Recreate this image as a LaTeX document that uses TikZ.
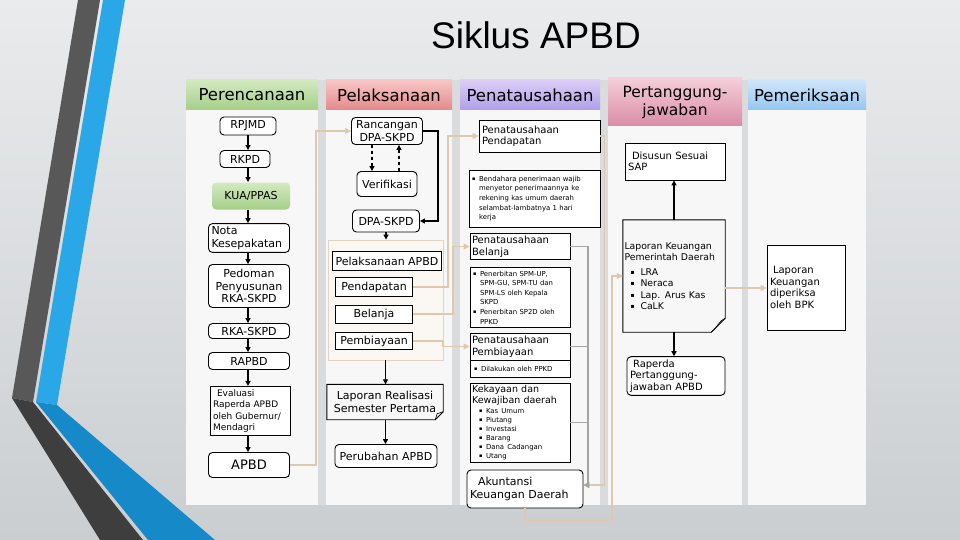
\documentclass[tikz,border=0pt]{standalone}
\usepackage{fontspec}
\setmainfont{DejaVu Sans}
\newfontfamily\titlefont{Liberation Sans}
\usepackage{xcolor}
\definecolor{bgTop}{HTML}{E9EBED}
\definecolor{bgBot}{HTML}{CBCED1}
\definecolor{gapGray}{HTML}{D9DBDD}
\definecolor{colPanel}{HTML}{F7F7F7}
\definecolor{greenTop}{HTML}{D3E9C0}
\definecolor{greenBot}{HTML}{A5CF88}
\definecolor{redTop}{HTML}{F8C6C6}
\definecolor{redBot}{HTML}{E48A8A}
\definecolor{purpTop}{HTML}{DACEF6}
\definecolor{purpBot}{HTML}{B09FEA}
\definecolor{pinkTop}{HTML}{F4CFDA}
\definecolor{pinkBot}{HTML}{DA8CA6}
\definecolor{blueTop}{HTML}{CFE6FA}
\definecolor{blueBot}{HTML}{94C6F1}
\definecolor{tanLine}{HTML}{DEC8AE}
\definecolor{grayLine}{HTML}{A4A4A4}
\definecolor{groupFill}{HTML}{FBF8F4}
\definecolor{groupDraw}{HTML}{E4D3C2}
\definecolor{stripeDark}{HTML}{585858}
\definecolor{stripeDarker}{HTML}{3E3E3E}
\definecolor{stripeBlue}{HTML}{2AA7E6}
\definecolor{stripeBlueDeep}{HTML}{1689C8}
\usepackage{tikz}
\usetikzlibrary{arrows.meta, calc}

\newcommand\hdrfont{\fontsize{16.5}{19}\selectfont}
\newcommand\boxfont{\fontsize{11}{12.5}\selectfont}
\newcommand\midfont{\fontsize{10}{11.5}\selectfont}
\newcommand\smallfont{\fontsize{9}{11.5}\selectfont}
\newcommand\tinyfont{\fontsize{6.9}{9.6}\selectfont}
\newcommand\sqb{\makebox[7pt][l]{\fontsize{5}{5}\selectfont\raisebox{0.6pt}{▪}}}
\newcommand\lsqb{\makebox[10pt][l]{\fontsize{6}{6}\selectfont\raisebox{1pt}{▪}}}
\newcommand\hang{\hspace*{7pt}}

\begin{document}
\begin{tikzpicture}[
    x=1pt, y=-1pt,
    sz/.style 2 args={minimum width=#1pt, minimum height=#2pt},
    rbox/.style={rectangle, rounded corners=4pt, draw=black, line width=0.9pt,
                 fill=white, inner sep=2pt, align=center, font=\boxfont},
    sbox/.style={rbox, sharp corners},
    docbox/.style={rectangle, inner sep=2pt, align=center, font=\boxfont},
    docline/.style={line width=0.9pt, draw=black},
    hdr/.style={rectangle, inner sep=0pt, align=center, font=\hdrfont},
    bullets/.style={sbox, align=left, font=\tinyfont, inner sep=3pt},
    arr/.style={-{Triangle[length=5pt,width=5pt]}, line width=1.5pt},
    tanarr/.style={-{Triangle[length=6pt,width=6pt]}, line width=1.6pt, color=tanLine},
    grayln/.style={line width=1.8pt, color=grayLine},
    grayarr/.style={grayln, -{Triangle[length=6pt,width=6pt]}}
]
\useasboundingbox (0,0) rectangle (960,540);
% slide background and stripes
\fill[top color=bgTop, bottom color=bgBot] (0,0) rectangle (960,540);
\fill[stripeDark] (78,0) -- (100,0) -- (33,402) -- (12,398) -- cycle;
\fill[stripeDarker] (12,398) -- (33,402) -- (143,540) -- (100,540) -- cycle;
\fill[stripeBlue] (103,0) -- (125,0) -- (57,405) -- (36,402) -- cycle;
\fill[stripeBlueDeep] (36,402) -- (57,405) -- (215,540) -- (148,540) -- cycle;

\node[font=\titlefont\fontsize{37}{40}\selectfont] (title) at (536,35) {Siklus APBD};

% column panels
\fill[gapGray] (186,80) rectangle (866,505);
\fill[colPanel] (186,110) rectangle (318,505);
\fill[colPanel] (326,110) rectangle (452,505);
\fill[colPanel] (460,110) rectangle (600,505);
\fill[colPanel] (608,126) rectangle (742,505);
\fill[colPanel] (748,110) rectangle (866,505);

\node[hdr, sz={132}{30}, top color=greenTop, bottom color=greenBot] (hplan) at (252,95) {Perencanaan};
\node[hdr, sz={126}{30}, top color=redTop, bottom color=redBot] (hexec) at (389,95) {Pelaksanaan};
\node[hdr, sz={140}{30}, top color=purpTop, bottom color=purpBot] (hadmin) at (530,95) {Penatausahaan};
\node[hdr, sz={134}{48}, top color=pinkTop, bottom color=pinkBot, font=\fontsize{15.5}{18}\selectfont] (hresp) at (675,102) {Pertanggung-\\jawaban};
\node[hdr, sz={118}{30}, top color=blueTop, bottom color=blueBot] (haudit) at (807,95) {Pemeriksaan};

% Perencanaan
\node[rbox, sz={56}{18}] (rpjmd) at (248,126) {RPJMD};
\node[rbox, sz={50}{17}] (rkpd) at (245,159) {RKPD};
\node[rbox, sz={78}{27}, draw=none, top color=greenTop, bottom color=greenBot] (kua) at (251,196) {KUA/PPAS};
\node[rbox, sz={81}{23}, align=left, inner sep=3pt, text width=75pt] (nota) at (249,238) {Nota\\Kesepakatan};
\node[rbox, sz={81}{43}] (pedoman) at (249,286) {Pedoman\\Penyusunan\\RKA-SKPD};
\node[rbox, sz={81}{15}, inner sep=1pt] (rka) at (249,331) {RKA-SKPD};
\node[rbox, sz={81}{17}] (rapbd) at (249,361) {RAPBD};
\node[sbox, sz={80}{48}, align=left, inner sep=3pt, text width=74pt, font=\smallfont] (evaluasi) at (250,411)
    {\hspace*{4pt}Evaluasi\\Raperda APBD\\oleh Gubernur/\\Mendagri};
\node[rbox, sz={81}{25}, font=\fontsize{13}{15}\selectfont] (apbd) at (249,465) {APBD};

\draw[arr] (rpjmd.south) -- (rpjmd.south |- rkpd.north);
\draw[arr] (rpjmd.south |- rkpd.south) -- (rpjmd.south |- kua.north);
\draw[arr] (rpjmd.south |- kua.south) -- (rpjmd.south |- nota.north);
\draw[arr] (rpjmd.south |- nota.south) -- (rpjmd.south |- pedoman.north);
\draw[arr] (rpjmd.south |- pedoman.south) -- (rpjmd.south |- rka.north);
\draw[arr] (rpjmd.south |- rka.south) -- (rpjmd.south |- rapbd.north);
\draw[arr] (rpjmd.south |- rapbd.south) -- (rpjmd.south |- evaluasi.north);
\draw[arr] (rpjmd.south |- evaluasi.south) -- (rpjmd.south |- apbd.north);

% Pelaksanaan
\node[rbox, sz={71}{27}] (rancangan) at (387,131) {Rancangan\\DPA-SKPD};
\node[rbox, sz={60}{25}] (verifikasi) at (387,184) {Verifikasi};
\node[rbox, sz={67}{22}] (dpa) at (386,221) {DPA-SKPD};
\node[rectangle, draw=groupDraw, fill=groupFill, line width=0.8pt, sz={115}{120}] (pelgroup) at (385.5,300) {};
\node[sbox, sz={109}{19}] (pelapbd) at (387,261) {Pelaksanaan APBD};
\node[sbox, sz={77}{19}] (pendapatan) at (374,287) {Pendapatan};
\node[sbox, sz={77}{18}] (belanja) at (374,314) {Belanja};
\node[sbox, sz={77}{17}] (pembiayaan) at (374,341) {Pembiayaan};
\node[docbox, sz={116}{35}] (laporan) at (385,402) {Laporan Realisasi\\Semester Pertama};
\draw[docline] (laporan.north west) -- (laporan.north east) -- ([yshift=8pt]laporan.south east)
    -- ([xshift=-8pt]laporan.south east) -- (laporan.south west) -- cycle;
\draw[docline, line width=0.6pt] ([xshift=-8pt]laporan.south east) -- ([xshift=-6pt,yshift=6pt]laporan.south east)
    -- ([yshift=8pt]laporan.south east);
\node[rbox, sz={102}{23}] (perubahan) at (386,456) {Perubahan APBD};

\draw[arr, dashed] ([xshift=-15pt]rancangan.south) -- ([xshift=-15pt]rancangan.south |- verifikasi.north);
\draw[arr, dashed] ([xshift=12pt]verifikasi.north) -- ([xshift=12pt]verifikasi.north |- rancangan.south);
\draw[arr] (rancangan.east) -- ++(15,0) |- (dpa.east);
\draw[arr] (dpa.south) -- (dpa.south |- pelgroup.north);
\draw[arr] (pelgroup.south) -- (pelgroup.south |- laporan.north);
\draw[arr] (pelgroup.south |- laporan.south) -- (pelgroup.south |- perubahan.north);

% Penatausahaan
\node[sbox, sz={121}{32}, align=left, inner sep=3pt, text width=115pt, font=\midfont] (ptpend) at (539.5,136)
    {Penatausahaan\\Pendapatan};
\node[bullets, sz={131}{57}, text width=125pt] (bulpend) at (534.5,198.5)
    {\sqb Bendahara penerimaan wajib\\\hang menyetor penerimaannya ke\\\hang rekening kas umum daerah\\\hang selambat-lambatnya 1 hari\\\hang kerja};
\node[sbox, sz={100}{23}, align=left, inner sep=2pt, text width=96pt, font=\midfont] (ptbel) at (520,246.5)
    {Penatausahaan\\Belanja};
\node[bullets, sz={100}{59}, text width=94pt] (bulbel) at (520,297.5)
    {\sqb Penerbitan SPM-UP,\\\hang SPM-GU, SPM-TU dan\\\hang SPM-LS oleh Kepala\\\hang SKPD\\\sqb Penerbitan SP2D oleh\\\hang PPKD};
\node[sbox, sz={100}{27}, align=left, inner sep=2pt, text width=96pt, font=\midfont] (ptpemb) at (520,346.5)
    {Penatausahaan\\Pembiayaan};
\node[bullets, sz={100}{17}, inner sep=2pt, text width=96pt] (bulpemb) at (520,368.5) {\hspace*{2pt}\sqb Dilakukan oleh PPKD};
\node[sbox, sz={100}{79}, align=left, inner sep=2pt, text width=96pt, font=\fontsize{9.5}{11}\selectfont] (kekayaan) at (520,422.5)
    {Kekayaan dan\\Kewajiban daerah\\[-1pt]
     {\tinyfont\hang\sqb Kas Umum}\\[-2pt]{\tinyfont\hang\sqb Piutang}\\[-2pt]{\tinyfont\hang\sqb Investasi}\\[-2pt]
     {\tinyfont\hang\sqb Barang}\\[-2pt]{\tinyfont\hang\sqb Dana Cadangan}\\[-2pt]{\tinyfont\hang\sqb Utang}};
\node[rbox, sz={116}{38}, align=left, inner sep=3pt, text width=110pt] (akuntansi) at (525,489)
    {\hspace*{8pt}Akuntansi\\Keuangan Daerah};

% Pertanggungjawaban
\node[sbox, sz={100}{37}, align=left, inner sep=3pt, text width=94pt, font=\midfont] (sap) at (675,161.5)
    {\hspace*{4pt}Disusun Sesuai\\SAP};
\node[docbox, sz={102}{112}, align=left, inner sep=1.5pt, text width=99pt, font=\fontsize{9.3}{11.5}\selectfont] (lkpd) at (674,276)
    {Laporan Keuangan\\Pemerintah Daerah\\[3pt]
     \hspace*{6pt}\lsqb LRA\\\hspace*{6pt}\lsqb Neraca\\\hspace*{6pt}\lsqb Lap. Arus Kas\\\hspace*{6pt}\lsqb CaLK\\[8pt]};
\draw[docline] (lkpd.north west) -- (lkpd.north east) -- ([yshift=14pt]lkpd.south east)
    -- ([xshift=-14pt]lkpd.south east) -- (lkpd.south west) -- cycle;
\draw[docline, line width=0.6pt] ([xshift=-14pt]lkpd.south east) .. controls ([xshift=-8pt,yshift=4pt]lkpd.south east)
    and ([xshift=-6pt,yshift=12pt]lkpd.south east) .. ([yshift=14pt]lkpd.south east);
\node[rbox, sz={98}{38}, align=left, inner sep=3pt, text width=92pt, font=\midfont] (raperda) at (676,376)
    {\hspace*{3pt}Raperda\\Pertanggung-\\jawaban APBD};

\draw[arr] (lkpd.north) -- (lkpd.north |- sap.south);
\draw[arr] (lkpd.south) -- (lkpd.south |- raperda.north);

% Pemeriksaan
\node[sbox, sz={78}{85}, align=left, inner sep=3pt, text width=72pt, font=\midfont] (bpk) at (806,287.5)
    {\hspace*{3pt}Laporan\\Keuangan\\diperiksa\\oleh BPK};

% connectors between columns
\draw[tanarr] (apbd.east) -- ++(26,0) |- (rancangan.west);
\draw[tanarr] (pendapatan.east) -- ++(35,0) |- (ptpend.west);
\draw[tanarr] (belanja.east) -- ++(40,0) |- (ptbel.west);
\draw[tanarr] (pembiayaan.east) -- ++(30,0) |- (ptpemb.west);
\draw[tanarr] (ptpend.east) -- ++(4,0) |- ([yshift=4pt]akuntansi.east);
\coordinate (gbus) at (588,485);
\draw[grayln] (ptbel.east) -| (gbus);
\draw[grayln] (ptpemb.east) -- (ptpemb.east -| gbus);
\draw[grayln] (kekayaan.east) -- (kekayaan.east -| gbus);
\draw[grayarr] (gbus) -- (gbus -| akuntansi.east);
\coordinate (lkbus) at (612,520);
\draw[tanarr] (akuntansi.south) |- (lkbus) |- (lkpd.west);
\draw[tanarr] ([yshift=-12pt]lkpd.east) -- ([yshift=-12pt]lkpd.east -| bpk.west);
\end{tikzpicture}
\end{document}
